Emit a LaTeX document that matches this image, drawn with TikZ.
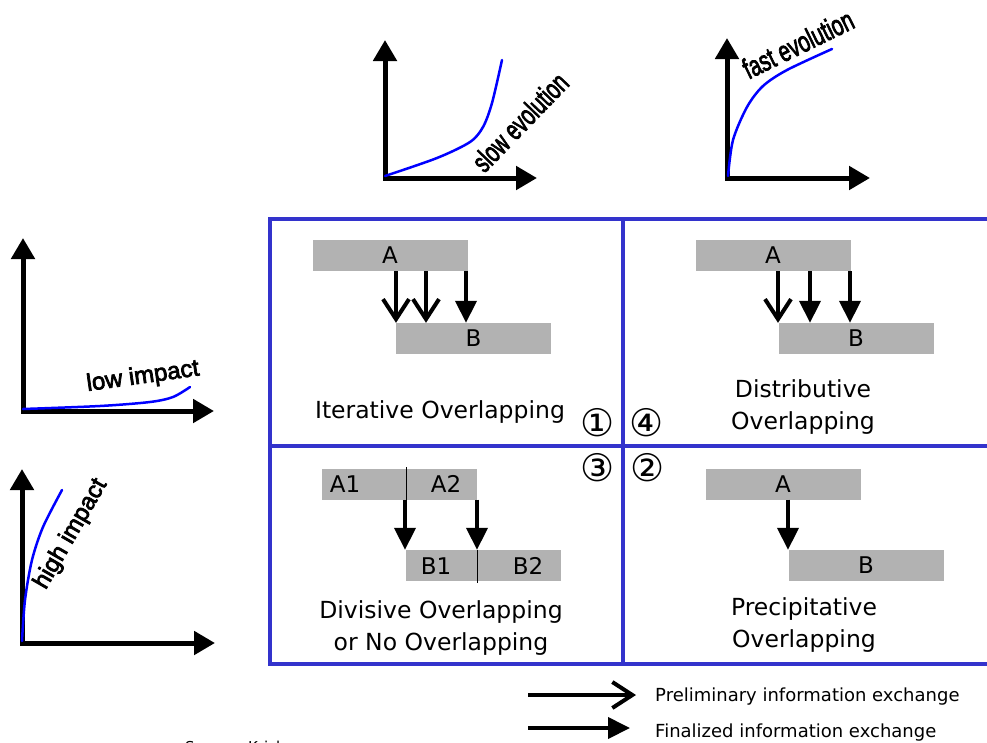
\documentclass[tikz,border=0pt]{standalone}
\usepackage{fontspec}
\setmainfont{DejaVu Sans}
\newfontfamily\graphfont[FakeBold=3]{Liberation Sans}
\usetikzlibrary{arrows.meta,calc}

\definecolor{gridblue}{RGB}{51,51,204}
\definecolor{bargray}{RGB}{178,178,178}

\begin{document}
\begin{tikzpicture}[x=1pt,y=-1pt,
  axis/.style={line width=5pt,-{Triangle[length=21pt,width=23pt]}},
  trend/.style={blue,line width=2.5pt,line cap=round},
  glabel/.style={font=\graphfont\fontsize{29}{29}\selectfont,inner sep=0},
  grid line/.style={gridblue,line width=4.5pt},
  bar/.style={fill=bargray,minimum width=155pt,minimum height=31pt,inner sep=0,
    font=\fontsize{23}{23}\selectfont},
  prelim/.style={line width=4pt,-{Straight Barb[length=20pt,width=26pt]}},
  final/.style={line width=4pt,-{Triangle[length=22pt,width=21pt]}},
  caption/.style={font=\fontsize{23.5}{23.5}\selectfont,anchor=base,inner sep=0},
  quad/.style={font=\fontsize{38}{38}\selectfont,inner sep=0},
  legend/.style={font=\fontsize{18}{18}\selectfont,anchor=base west,inner sep=0},
  divider/.style={line width=1pt},
]
\useasboundingbox (0,0) rectangle (987,742);

% ---- evolution graphs (top) ----
\draw[axis] (385,180) -- (385,40);
\draw[axis] (383,178) -- (537,178);
\draw[trend] plot[smooth] coordinates {(385,176) (437,158) (470,142) (483,127) (492,103) (502,60)};
\node[glabel,rotate=46] (slow) at (520,122) {\scalebox{0.68}[1]{slow evolution}};

\draw[axis] (727,180) -- (727,38);
\draw[axis] (725,178) -- (870,178);
\draw[trend] plot[smooth] coordinates {(728,176) (733,140) (747,107) (763,86) (787,70) (832,49)};
\node[glabel,rotate=26] (fast) at (798,44) {\scalebox{0.7}[1]{fast evolution}};

% ---- impact graphs (left) ----
\draw[axis] (23,413) -- (23,238);
\draw[axis] (21,411) -- (214,411);
\draw[trend] plot[smooth] coordinates {(23,409) (100,406) (150,402) (173,397) (190,387)};
\node[glabel,rotate=8,font=\graphfont\fontsize{24}{24}\selectfont] (low) at (143,377) {low impact};

\draw[axis] (22,645) -- (22,469);
\draw[axis] (20,643) -- (215,643);
\draw[trend] plot[smooth] coordinates {(22,641) (25,600) (32,560) (43,527) (62,490)};
\node[glabel,rotate=60,font=\graphfont\fontsize{24}{24}\selectfont] (high) at (71,534) {high impact};

% ---- quadrant grid ----
\draw[grid line] (990,219) -- (270,219) -- (270,664) -- (990,664);
\draw[grid line] (623,219) -- (623,664);
\draw[grid line] (270,446) -- (990,446);

% ---- quadrant 1: iterative ----
\node[bar] (i1a) at (390,255.5) {A};
\node[bar] (i1b) at (473.5,338.5) {B};
\coordinate (xi1) at (396,0);
\coordinate (xi2) at (426,0);
\coordinate (xi3) at (466,0);
\draw[prelim] (i1a.south -| xi1) -- (i1b.north -| xi1);
\draw[prelim] (i1a.south -| xi2) -- (i1b.north -| xi2);
\draw[final]  (i1a.south -| xi3) -- (i1b.north -| xi3);
\node[caption] (capI) at (440,418) {Iterative Overlapping};
\node[quad] (n1) at (598,423) {①};

% ---- quadrant 4: distributive ----
\node[bar] (d4a) at (773,255.5) {A};
\node[bar] (d4b) at (856,338.5) {B};
\coordinate (xd1) at (778,0);
\coordinate (xd2) at (810,0);
\coordinate (xd3) at (850,0);
\draw[prelim] (d4a.south -| xd1) -- (d4b.north -| xd1);
\draw[final]  (d4a.south -| xd2) -- (d4b.north -| xd2);
\draw[final]  (d4a.south -| xd3) -- (d4b.north -| xd3);
\node[caption] (capD1) at (803,397) {Distributive};
\node[caption] (capD2) at (803,429) {Overlapping};
\node[quad] (n4) at (647,423) {④};

% ---- quadrant 3: divisive ----
\node[bar] (v3a) at (399.5,484) {};
\node[bar] (v3b) at (483,565.5) {};
\draw[divider] (406,467) -- (406,499.5);
\draw[divider] (477,550) -- (477,583);
\node[font=\fontsize{23}{23}\selectfont,inner sep=0] (va1) at (345,484) {A1};
\node[font=\fontsize{23}{23}\selectfont,inner sep=0] (va2) at (446,484) {A2};
\node[font=\fontsize{23}{23}\selectfont,inner sep=0] (vb1) at (436,566) {B1};
\node[font=\fontsize{23}{23}\selectfont,inner sep=0] (vb2) at (528,566) {B2};
\coordinate (xv1) at (405,0);
\coordinate (xv2) at (477,0);
\draw[final] (v3a.south -| xv1) -- (v3b.north -| xv1);
\draw[final] (v3a.south -| xv2) -- (v3b.north -| xv2);
\node[caption] (capV1) at (441,618) {Divisive Overlapping};
\node[caption] (capV2) at (441,650) {or No Overlapping};
\node[quad] (n3) at (598,468) {③};

% ---- quadrant 2: precipitative ----
\node[bar] (p2a) at (783,484) {A};
\node[bar] (p2b) at (866,565.5) {B};
\coordinate (xp1) at (788,0);
\draw[final] (p2a.south -| xp1) -- (p2b.north -| xp1);
\node[caption] (capP1) at (804,615) {Precipitative};
\node[caption] (capP2) at (804,647) {Overlapping};
\node[quad] (n2) at (648,468) {②};

% ---- legend ----
\node[legend] (lp) at (655,701) {Preliminary information exchange};
\node[legend] (lf) at (655,737) {Finalized information exchange};
\coordinate (lp0) at (528,695);
\coordinate (lp1) at (636,695);
\coordinate (lf0) at (528,728);
\coordinate (lf1) at (630,728);
\draw[prelim] (lp0) -- (lp1);
\draw[final] (lf0) -- (lf1);

\node[font=\fontsize{15}{15}\selectfont,anchor=base west,inner sep=0] (src) at (185,752) {Source: Krishnan};
\end{tikzpicture}
\end{document}
